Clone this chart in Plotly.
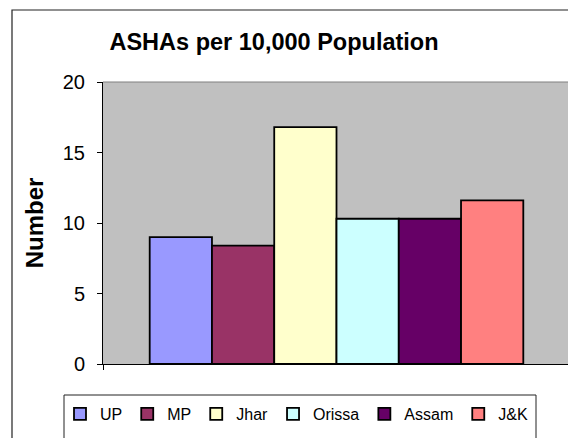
import plotly.graph_objects as go

states = ["UP", "MP", "Jhar", "Orissa", "Assam", "J&K"]
ashas_per_10k = [9.0, 8.4, 16.8, 10.3, 10.3, 11.6]
colors = ["#9999FF", "#993366", "#FFFFCC", "#CCFFFF", "#660066", "#FF8080"]
y_ticks = [0, 5, 10, 15, 20]

FONT = "Liberation Sans, Arial, sans-serif"
W, H = 576, 438
OFF = 8  # page body margin offset
# plot area in reference (screen) pixels
PX0, PX1, PY0, PY1 = 103, 570, 82, 364
L = PX0 - OFF
T = PY0 - OFF
R = W - (PX1 - OFF)
B = H - (PY1 - OFF)
pw, ph = PX1 - PX0, PY1 - PY0


def px_x(x):
    return (x - PX0) / pw


def px_y(y):
    return (PY1 - y) / ph


fig = go.Figure()
for name, val, col in zip(states, ashas_per_10k, colors):
    fig.add_trace(go.Bar(
        x=[0], y=[val], name=name,
        marker=dict(color=col, line=dict(color="black", width=1.8)),
    ))

shapes = [
    # outer chart border
    dict(type="rect", xref="paper", yref="paper",
         x0=px_x(12), x1=px_x(640), y0=px_y(500), y1=px_y(10),
         line=dict(color="#222222", width=1.2), layer="above"),
    # plot area border (top and right)
    dict(type="line", xref="paper", yref="paper", x0=0, x1=1, y0=1, y1=1,
         line=dict(color="#808080", width=1.2), layer="above"),
    dict(type="line", xref="paper", yref="paper", x0=1, x1=1, y0=0, y1=1,
         line=dict(color="#808080", width=1.2), layer="above"),
    # legend box
    dict(type="rect", xref="paper", yref="paper",
         x0=px_x(64), x1=px_x(536), y0=px_y(500), y1=px_y(395),
         line=dict(color="#222222", width=1), layer="above"),
]

fig.update_layout(
    width=W, height=H,
    margin=dict(l=L, r=R, t=T, b=B, autoexpand=False),
    paper_bgcolor="white",
    plot_bgcolor="#C0C0C0",
    barmode="group", bargap=0.2, bargroupgap=0,
    font=dict(family=FONT, color="black"),
    title=dict(text="<b>ASHAs per 10,000 Population</b>",
               font=dict(size=23.5, family=FONT, color="black"),
               x=(274 - OFF) / W, xanchor="center", xref="container",
               y=1 - (42 - OFF) / H, yanchor="middle", yref="container"),
    xaxis=dict(range=[-0.5, 0.5], tickvals=[-0.5, 0.5], ticktext=["", ""],
               showgrid=False, zeroline=False, showline=True, linecolor="black",
               linewidth=1, ticks="outside", ticklen=5, tickcolor="black",
               fixedrange=True),
    yaxis=dict(range=[0, 20], tickvals=y_ticks, showgrid=False, zeroline=False,
               showline=True, linecolor="black", linewidth=1,
               ticks="outside", ticklen=5, tickcolor="black",
               ticklabelstandoff=8,
               tickfont=dict(size=20, family=FONT, color="black"),
               title=dict(text="<b>Number</b>", standoff=12,
                          font=dict(size=24, family=FONT, color="black"))),
    showlegend=True,
    legend=dict(orientation="h", x=px_x(60), xanchor="left",
                y=px_y(414), yanchor="middle",
                font=dict(size=16, family=FONT, color="black"),
                bgcolor="rgba(0,0,0,0)", borderwidth=0,
                itemwidth=30, traceorder="normal",
                itemclick=False, itemdoubleclick=False),
    shapes=shapes,
)

fig.write_html("out.html")
